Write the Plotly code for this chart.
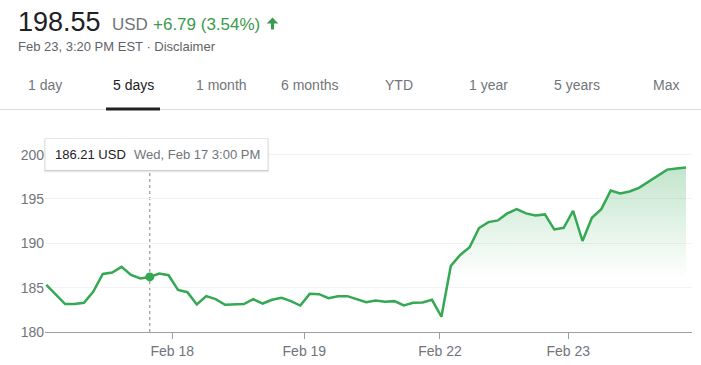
import plotly.graph_objects as go

# ---------------- data ----------------
prices = [185.31, 184.23, 183.15, 183.15, 183.29, 184.56, 186.55, 186.70, 187.34, 186.44,
          186.03, 186.21, 186.60, 186.40, 184.75, 184.49, 183.10, 184.04, 183.70, 183.07,
          183.07, 183.15, 183.70, 183.21, 183.63, 183.85, 183.48, 182.98, 184.30, 184.27,
          183.82, 184.04, 184.04, 183.74, 183.37, 183.56, 183.41, 183.48, 182.99, 183.29,
          183.33, 183.63, 181.72, 187.45, 188.69, 189.55, 191.72, 192.39, 192.58, 193.37,
          193.85, 193.37, 193.14, 193.26, 191.57, 191.75, 193.67, 190.26, 192.88, 193.85,
          195.95, 195.62, 195.84, 196.25, 196.92, 197.64, 198.31, 198.43, 198.55]
x_idx = list(range(len(prices)))
day_ticks = [13.39, 27.43, 41.85, 55.49]
day_labels = ["Feb 18", "Feb 19", "Feb 22", "Feb 23"]
y_ticks = [180, 185, 190, 195, 200]
y_tick_labels = ["180", "185", "190", "195", "200"]
tabs = ["1 day", "5 days", "1 month", "6 months", "YTD", "1 year", "5 years", "Max"]
selected_tab = "5 days"
last_price = 198.55
change = 6.79
change_pct = 3.54
currency = "USD"
timestamp = "Feb 23, 3:20 PM EST"
hover_idx = 11
hover_time = "Wed, Feb 17 3:00 PM"

# ---------------- layout helpers ----------------
W, H = 701, 365
L, R, T, B = 45, 9, 128, 33
PW, PH = W - L - R, H - T - B
FONT = "Liberation Sans, Arial, sans-serif"
GREEN = "#34a853"
GREY_TXT = "#70757a"
DARK = "#202124"


def px(x):
    return (x - L) / PW


def py(y):
    return (H - B - y) / PH


fig = go.Figure()
fig.add_trace(go.Scatter(
    x=x_idx, y=prices, mode="lines",
    line=dict(color=GREEN, width=2.5),
    fill="tozeroy",
    fillgradient=dict(type="vertical",
                      colorscale=[[0, "rgba(52,168,83,0)"], [1, "rgba(52,168,83,0.33)"]],
                      start=186, stop=200),
    hoverinfo="skip", showlegend=False))
fig.add_trace(go.Scatter(
    x=[x_idx[hover_idx]], y=[prices[hover_idx]], mode="markers",
    marker=dict(color=GREEN, size=9), hoverinfo="skip", showlegend=False))

shapes = []
annotations = []

# dotted hover line
shapes.append(dict(type="line", xref="x", yref="paper", x0=hover_idx, x1=hover_idx,
                   y0=0, y1=py(170), line=dict(color="#80868b", width=1, dash="dot"),
                   layer="below"))
# tooltip box with shadow
for dx, dy, a in [(1.5, 2.5, 0.05), (0.8, 1.5, 0.08), (0.4, 0.8, 0.10)]:
    shapes.append(dict(type="rect", xref="paper", yref="paper",
                       x0=px(45.3 - dx), x1=px(267.7 + dx), y0=py(170 + dy), y1=py(139 - dx * 0.5),
                       fillcolor=f"rgba(0,0,0,{a})", line=dict(width=0)))
shapes.append(dict(type="rect", xref="paper", yref="paper",
                   x0=px(45.3), x1=px(267.7), y0=py(170), y1=py(139),
                   fillcolor="white", line=dict(width=0)))
annotations.append(dict(xref="paper", yref="paper", x=px(53), y=py(154.5), xanchor="left",
                        yanchor="middle", showarrow=False,
                        text=f"{prices[hover_idx]:.2f} {currency}",
                        font=dict(family=FONT, size=13, color=DARK)))
annotations.append(dict(xref="paper", yref="paper", x=px(131.5), y=py(154.5), xanchor="left",
                        yanchor="middle", showarrow=False, text=hover_time,
                        font=dict(family=FONT, size=13, color=GREY_TXT)))

# header
annotations.append(dict(xref="paper", yref="paper", x=px(16), y=py(21.5), xanchor="left",
                        yanchor="middle", showarrow=False, text=f"{last_price:.2f}",
                        font=dict(family=FONT, size=27, color=DARK)))
annotations.append(dict(xref="paper", yref="paper", x=px(110), y=py(24.5), xanchor="left",
                        yanchor="middle", showarrow=False, text=currency,
                        font=dict(family=FONT, size=17, color=GREY_TXT)))
annotations.append(dict(xref="paper", yref="paper", x=px(151), y=py(24.5), xanchor="left",
                        yanchor="middle", showarrow=False,
                        text=f"+{change:.2f} ({change_pct:.2f}%)",
                        font=dict(family=FONT, size=17, color="#3a9a4e")))
arrow = [(272.5, 17.5), (278.3, 23.5), (274, 23.5), (274, 29.5), (271, 29.5), (271, 23.5), (266.7, 23.5)]
path = "M " + " L ".join(f"{px(a):.5f},{py(b):.5f}" for a, b in arrow) + " Z"
shapes.append(dict(type="path", xref="paper", yref="paper", path=path,
                   fillcolor="#3a9a4e", line=dict(width=0)))
annotations.append(dict(xref="paper", yref="paper", x=px(16), y=py(46.5), xanchor="left",
                        yanchor="middle", showarrow=False,
                        text=f"{timestamp} · Disclaimer",
                        font=dict(family=FONT, size=13, color="#5f6368")))

# tabs
tab_centers = [44.5, 133, 221, 310, 399, 488, 577, 665.5]
for name, cx in zip(tabs, tab_centers):
    annotations.append(dict(xref="paper", yref="paper", x=px(cx), y=py(85), xanchor="center",
                            yanchor="middle", showarrow=False, text=name,
                            font=dict(family=FONT, size=14,
                                      color=DARK if name == selected_tab else GREY_TXT)))
shapes.append(dict(type="line", xref="paper", yref="paper", x0=px(0), x1=px(701),
                   y0=py(109.5), y1=py(109.5), line=dict(color="#dadce0", width=1)))
shapes.append(dict(type="rect", xref="paper", yref="paper", x0=px(106), x1=px(160),
                   y0=py(110.5), y1=py(107.5), fillcolor=DARK, line=dict(width=0)))

fig.update_layout(
    template="none",
    width=W, height=H,
    margin=dict(l=L, r=R, t=T, b=B, pad=0),
    paper_bgcolor="white", plot_bgcolor="white",
    font=dict(family=FONT, color=GREY_TXT),
    shapes=shapes, annotations=annotations,
    xaxis=dict(range=[-0.14, 68.64], tickvals=day_ticks, ticktext=day_labels, automargin=False,
               showgrid=False, zeroline=False, showline=True, linecolor="#9aa0a6", linewidth=1,
               ticks="outside", ticklen=6, tickcolor="#9aa0a6", tickwidth=1,
               tickfont=dict(family=FONT, size=14, color=GREY_TXT), fixedrange=True),
    yaxis=dict(range=[180, 203], tickvals=y_ticks, ticktext=y_tick_labels, automargin=False,
               showgrid=True, gridcolor="#f1f3f4", gridwidth=1, zeroline=False, showline=False,
               ticks="", tickfont=dict(family=FONT, size=14, color=GREY_TXT), fixedrange=True),
)

fig.write_html("out.html", config={"displayModeBar": False, "staticPlot": True},
               post_script="document.body.style.margin='0';document.body.style.overflow='hidden';")
